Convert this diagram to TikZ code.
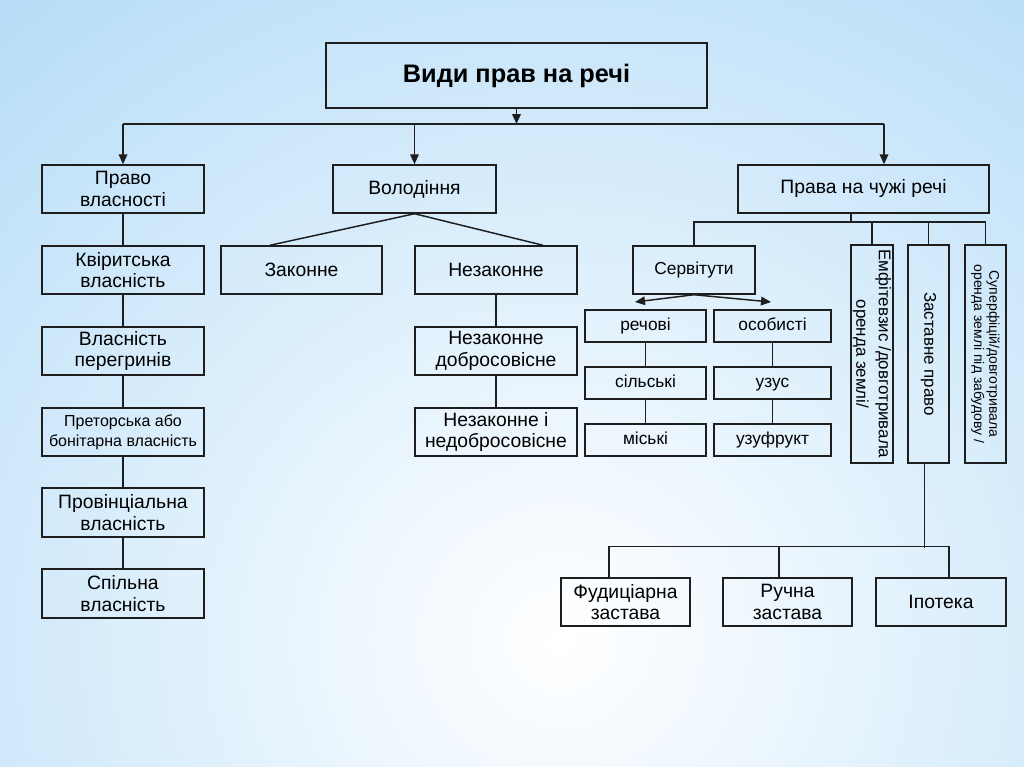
\documentclass[tikz,border=0pt]{standalone}
\usepackage{fontspec}
\setmainfont{Liberation Sans}
\usetikzlibrary{positioning, calc, arrows.meta}

\definecolor{bgblue}{RGB}{172,216,247}
\definecolor{linegray}{RGB}{30,30,30}

\tikzset{
    box/.style={draw=linegray, line width=1.1pt, align=center, inner sep=1pt, font=\fontsize{14.5}{16.3}\selectfont},
    smallbox/.style={box, font=\fontsize{13}{15}\selectfont, text height=0.72em, text depth=0.12em},
    sidebox/.style={box, rotate=-90, font=\fontsize{12.7}{16.8}\selectfont},
    wh/.style 2 args={minimum width=#1*0.75pt, minimum height=#2*0.75pt},
    arr/.style={draw=linegray, line width=1.1pt, -{Triangle[length=7.5pt,width=6.5pt]}},
    link/.style={draw=linegray, line width=1.1pt}
}

\begin{document}
\begin{tikzpicture}[x=0.75pt, y=-0.75pt]
        \useasboundingbox (0,0) rectangle (1024,767);
        \fill[bgblue] (0,0) rectangle (1024,767);
        \begin{scope}
            \clip (0,0) rectangle (1024,767);
            \shade[inner color=white, outer color=bgblue] (560,640) ellipse (1000 and 950);
        \end{scope}

        \node[box, wh={381}{65}, font=\fontsize{19}{22}\selectfont\bfseries] (title) at (516.5,75.5) {Види прав на речі};

        \node[box, wh={162}{48}] (pravo) at (123,189) {Право\\власності};
        \node[box, wh={163}{48}] (volod) at (414.5,189) {Володіння};
        \node[box, wh={251}{48}] (chuzhi) at (863.5,189) {Права на чужі речі};

        \node[box, wh={162}{48}] (kvir) at (123,270) {Квіритська\\власність};
        \node[box, wh={162}{48}] (pereg) at (123,351) {Власність\\перегринів};
        \node[box, wh={162}{48}, font=\fontsize{12}{15}\selectfont] (pretor) at (123,432) {Преторська або\\бонітарна власність};
        \node[box, wh={162}{49}] (provin) at (123,512.5) {Провінціальна\\власність};
        \node[box, wh={162}{49}] (spil) at (123,593.5) {Спільна\\власність};

        \node[box, wh={161}{48}] (zakon) at (301.5,270) {Законне};
        \node[box, wh={162}{48}] (nezak) at (496,270) {Незаконне};
        \node[box, wh={162}{48}] (nezakdobr) at (496,351) {Незаконне\\добросовісне};
        \node[box, wh={162}{48}] (nezaknedobr) at (496,432) {Незаконне і\\недобросовісне};

        \node[smallbox, wh={122}{48}] (servit) at (694,270) {Сервітути};
        \node[smallbox, wh={121}{32}] (rechovi) at (645.5,326) {речові};
        \node[smallbox, wh={117}{32}] (osob) at (772.5,326) {особисті};
        \node[smallbox, wh={121}{32}] (silski) at (645.5,383) {сільські};
        \node[smallbox, wh={117}{32}] (uzus) at (772.5,383) {узус};
        \node[smallbox, wh={121}{32}] (miski) at (645.5,440) {міські};
        \node[smallbox, wh={117}{32}] (uzufrukt) at (772.5,440) {узуфрукт};

        \node[sidebox, wh={218}{42}] (emfit) at (872,354) {Емфітевзис /довготривала\\оренда землі/};
        \node[sidebox, wh={218}{41}] (zastavne) at (928.5,354) {Заставне право};
        \node[sidebox, wh={218}{41}, font=\fontsize{10.5}{11.5}\selectfont] (superf) at (985.5,354) {Суперфіцій/довготривала\\оренда землі під забудову /};

        \node[box, wh={129}{48}] (fud) at (625.5,602) {Фудиціарна\\застава};
        \node[box, wh={129}{48}] (ruchna) at (787.5,602) {Ручна\\застава};
        \node[box, wh={130}{48}] (ipoteka) at (941,602) {Іпотека};

        \coordinate (c1) at (123,124);
        \coordinate (c3) at (884,124);
        \coordinate (rb) at (851,222);
        \coordinate (sl) at (635,302);
        \coordinate (sr) at (771,302);

        \draw[arr] (title.south) -- (title.south |- c1);
        \draw[link] (c1) -- (c3);
        \draw[arr] (c1) -- (pravo);
        \draw[arr] (volod.north |- c1) -- (volod);
        \draw[arr] (c3) -- (c3 |- chuzhi.north);

        \draw[link] (pravo) -- (kvir) -- (pereg) -- (pretor) -- (provin) -- (spil);
        \draw[link] ($(zakon.north)+(-31.5,0)$) -- (volod.south) -- ($(nezak.north)+(47,0)$);
        \draw[link] (nezak) -- (nezakdobr) -- (nezaknedobr);

        \draw[link] (rb) -- (rb |- chuzhi.south);
        \draw[link] (servit.north) |- (superf.west |- rb) -- (superf.west);
        \draw[link] (emfit.west) -- (emfit.west |- rb);
        \draw[link] (zastavne.west) -- (zastavne.west |- rb);

        \draw[arr] (servit.south) -- (sl);
        \draw[arr] (servit.south) -- (sr);
        \draw[link] (rechovi) -- (silski) -- (miski);
        \draw[link] (osob) -- (uzus) -- (uzufrukt);

        \draw[link] ($(zastavne.east)+(-4,0)$) -- ++(0,84);
        \draw[link] ($(fud.north)+(-16.5,0)$) -- ++(0,-31) -| ($(ipoteka.north)+(8,0)$);
        \draw[link] ($(ruchna.north)+(-8.5,0)$) -- ++(0,-31);
\end{tikzpicture}
\end{document}
